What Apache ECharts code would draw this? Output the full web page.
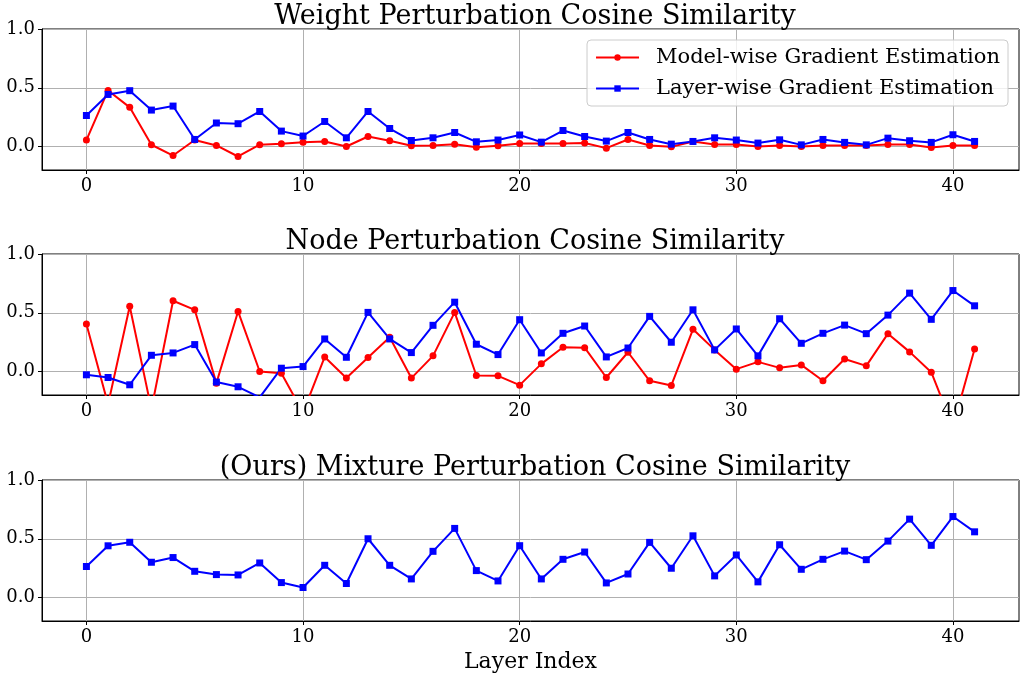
<!DOCTYPE html>
<html>
<head>
<meta charset="utf-8">
<script src="https://cdn.jsdelivr.net/npm/echarts@6.0.0/dist/echarts.min.js"></script>
<style>
  html, body { margin: 0; padding: 0; background: #fff; }
  #chart { width: 1022px; height: 676px; }
</style>
</head>
<body>
<div id="chart"></div>
<script>
// layer index on the x axis
var layers = [0, 1, 2, 3, 4, 5, 6, 7, 8, 9, 10, 11, 12, 13, 14, 15, 16, 17, 18, 19, 20,
              21, 22, 23, 24, 25, 26, 27, 28, 29, 30, 31, 32, 33, 34, 35, 36, 37, 38, 39, 40, 41];

// weight perturbation
var weightModelWise = [0.055, 0.477, 0.333, 0.015, -0.077, 0.055, 0.009, -0.085, 0.015, 0.023, 0.037,
                       0.043, 0.0, 0.085, 0.049, 0.006, 0.009, 0.02, -0.006, 0.006, 0.025, 0.026,
                       0.026, 0.029, -0.014, 0.06, 0.009, -0.003, 0.043, 0.018, 0.018, 0.0, 0.009,
                       0.0, 0.009, 0.009, 0.009, 0.018, 0.018, -0.008, 0.009, 0.009];
var weightLayerWise = [0.264, 0.443, 0.475, 0.31, 0.344, 0.06, 0.2, 0.194, 0.298, 0.131, 0.089,
                       0.213, 0.074, 0.298, 0.153, 0.051, 0.074, 0.119, 0.04, 0.055, 0.098, 0.037,
                       0.136, 0.085, 0.046, 0.119, 0.06, 0.02, 0.043, 0.074, 0.055, 0.029, 0.057,
                       0.014, 0.06, 0.035, 0.014, 0.071, 0.049, 0.035, 0.1, 0.043];

// node perturbation
var nodeModelWise = [0.404, -0.28, 0.556, -0.32, 0.602, 0.525, -0.099, 0.511, 0.0, -0.014, -0.35,
                     0.124, -0.056, 0.119, 0.291, -0.056, 0.133, 0.503, -0.034, -0.037, -0.116, 0.065,
                     0.206, 0.203, -0.051, 0.164, -0.079, -0.119, 0.359, 0.184, 0.02, 0.082, 0.031,
                     0.056, -0.079, 0.107, 0.048, 0.322, 0.167, -0.006, -0.47, 0.192];
var nodeLayerWise = [-0.028, -0.051, -0.113, 0.138, 0.158, 0.229, -0.09, -0.13, -0.22, 0.028, 0.042,
                     0.277, 0.121, 0.503, 0.277, 0.161, 0.393, 0.59, 0.232, 0.144, 0.441, 0.158,
                     0.325, 0.387, 0.124, 0.2, 0.469, 0.249, 0.525, 0.184, 0.362, 0.133, 0.449,
                     0.24, 0.325, 0.395, 0.322, 0.48, 0.667, 0.444, 0.689, 0.559];

// mixture perturbation (ours)
var mixtureValues = [0.264, 0.44, 0.47, 0.30, 0.34, 0.223, 0.195, 0.192, 0.294, 0.127, 0.085,
                     0.274, 0.119, 0.5, 0.274, 0.158, 0.393, 0.588, 0.229, 0.141, 0.441, 0.158,
                     0.325, 0.387, 0.124, 0.2, 0.469, 0.249, 0.525, 0.184, 0.362, 0.133, 0.449,
                     0.24, 0.325, 0.395, 0.322, 0.48, 0.667, 0.444, 0.689, 0.559];

var titles = ['Weight Perturbation Cosine Similarity',
              'Node Perturbation Cosine Similarity',
              '(Ours) Mixture Perturbation Cosine Similarity'];
var xTicks = [0, 10, 20, 30, 40];
var yTicks = [0, 0.5, 1.0];
var seriesNames = ['Model-wise Gradient Estimation', 'Layer-wise Gradient Estimation'];

var FONT = 'DejaVu Serif';
var gridTops = [29, 254, 480];
var gridHeight = 141;

function pairs(values) {
    return layers.map(function (x, i) { return [x, values[i]]; });
}

var chart = echarts.init(document.getElementById('chart'));

var grids = [], xAxes = [], yAxes = [], titleList = [];
for (var i = 0; i < 3; i++) {
    grids.push({
        left: 42, right: 3, top: gridTops[i], height: gridHeight,
        show: true, borderColor: '#000', borderWidth: 1, backgroundColor: 'transparent'
    });
    titleList.push({
        text: titles[i],
        left: 530, top: gridTops[i] - 31, textAlign: 'center',
        textStyle: { fontFamily: FONT, fontSize: 27, fontWeight: 'normal', color: '#000' }
    });
    xAxes.push({
        type: 'value', gridIndex: i, min: -2.05, max: 43.05,
        name: i === 2 ? 'Layer Index' : '',
        nameLocation: 'middle', nameGap: 30,
        nameTextStyle: { fontFamily: FONT, fontSize: 22, color: '#000' },
        axisLine: { show: true, onZero: false, lineStyle: { color: '#000' } },
        axisTick: { show: true, customValues: xTicks, length: 4, lineStyle: { color: '#000' } },
        axisLabel: { customValues: xTicks, margin: 7, fontFamily: FONT, fontSize: 18, color: '#000' },
        splitLine: { show: true, lineStyle: { color: '#b0b0b0', width: 1 } }
    });
    yAxes.push({
        type: 'value', gridIndex: i, min: -0.2, max: 1.0,
        axisLine: { show: true, onZero: false, lineStyle: { color: '#000' } },
        axisTick: { show: true, customValues: yTicks, length: 4, lineStyle: { color: '#000' } },
        axisLabel: {
            customValues: yTicks, margin: 7, fontFamily: FONT, fontSize: 18, color: '#000',
            formatter: function (v) { return v.toFixed(1); }
        },
        splitLine: { show: true, lineStyle: { color: '#b0b0b0', width: 1 } }
    });
}

function lineSeries(name, values, idx, color, symbol) {
    return {
        name: name, type: 'line', xAxisIndex: idx, yAxisIndex: idx,
        data: pairs(values),
        symbol: symbol, symbolSize: 7, showAllSymbol: true,
        lineStyle: { color: color, width: 2 },
        itemStyle: { color: color },
        clip: true, animation: false
    };
}

var option = {
    backgroundColor: '#fff',
    animation: false,
    title: titleList,
    legend: {
        data: seriesNames,
        orient: 'vertical',
        right: 14, top: 40,
        itemWidth: 43, itemHeight: 8, itemGap: 10,
        padding: [7, 8, 7, 8],
        backgroundColor: 'rgba(255,255,255,0.8)',
        borderColor: '#cccccc', borderWidth: 1, borderRadius: 4,
        textStyle: { fontFamily: FONT, fontSize: 21, color: '#000', padding: [0, 0, 0, 12] }
    },
    grid: grids,
    xAxis: xAxes,
    yAxis: yAxes,
    series: [
        lineSeries(seriesNames[0], weightModelWise, 0, '#ff0000', 'circle'),
        lineSeries(seriesNames[1], weightLayerWise, 0, '#0000ff', 'rect'),
        lineSeries(seriesNames[0], nodeModelWise, 1, '#ff0000', 'circle'),
        lineSeries(seriesNames[1], nodeLayerWise, 1, '#0000ff', 'rect'),
        lineSeries('Mixture', mixtureValues, 2, '#0000ff', 'rect')
    ]
};

chart.setOption(option);
</script>
</body>
</html>
